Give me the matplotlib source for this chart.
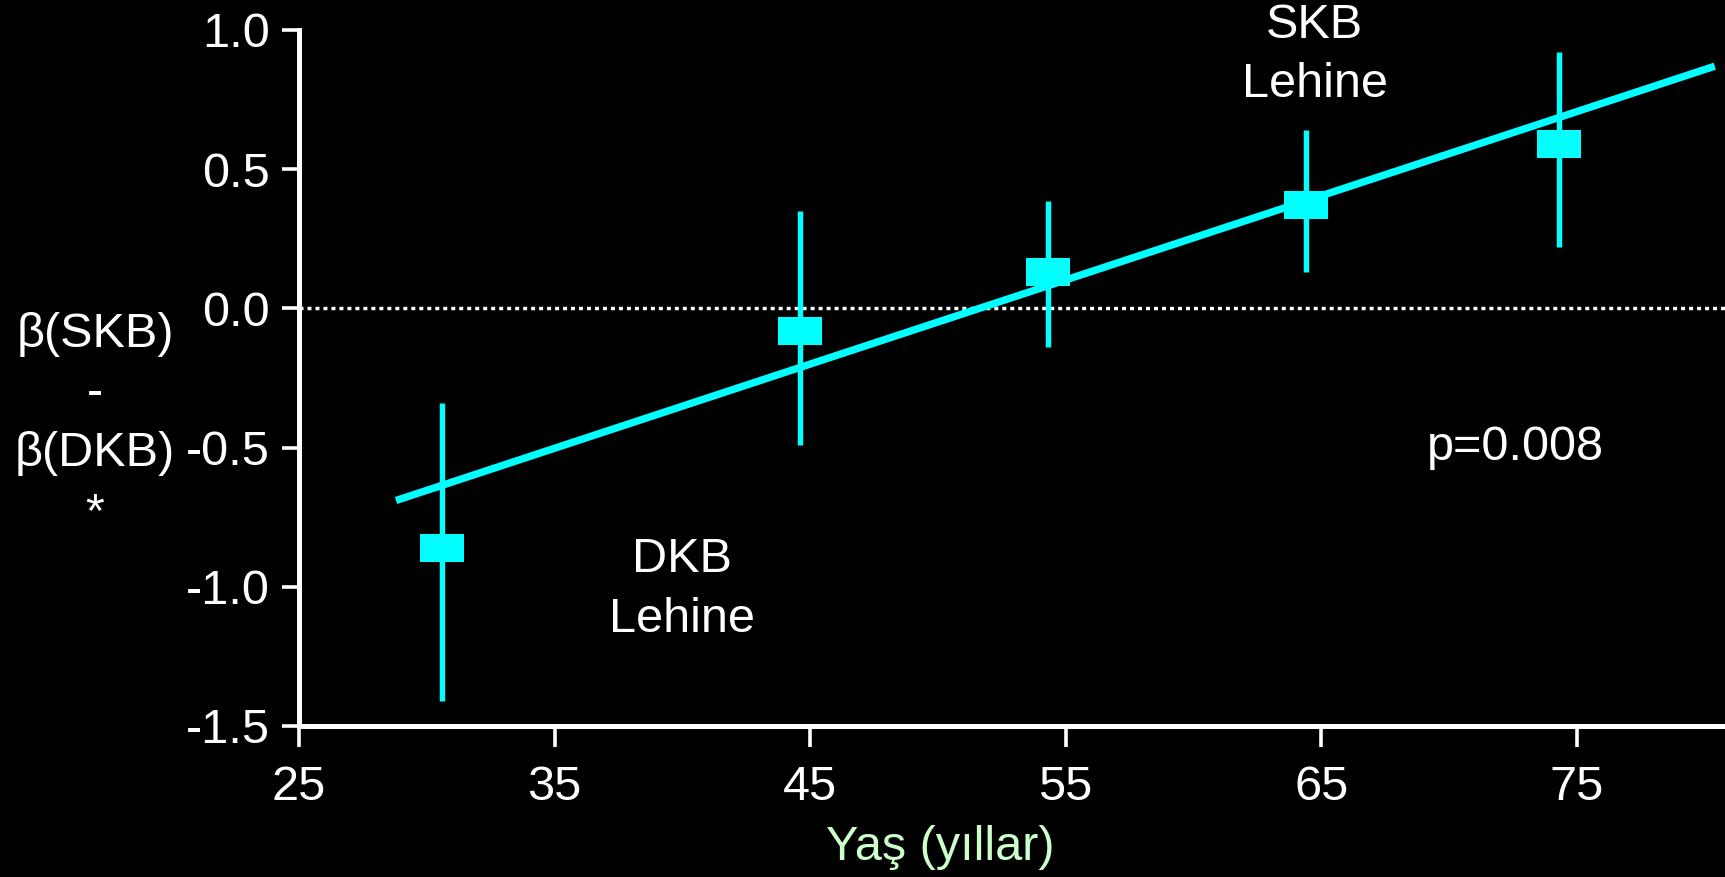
import numpy as np
import matplotlib
matplotlib.use('Agg')
import matplotlib.pyplot as plt

# data
age = [30.6, 44.6, 54.3, 64.4, 74.3]
beta_diff = [-0.86, -0.08, 0.13, 0.37, 0.59]
err_low = [-1.41, -0.49, -0.14, 0.13, 0.22]
err_high = [-0.34, 0.35, 0.385, 0.64, 0.92]

# regression line ends
fit_x = [28.8, 80.4]
fit_y = [-0.69, 0.87]

xticks = [25, 35, 45, 55, 65, 75]
yticks = [-1.5, -1.0, -0.5, 0.0, 0.5, 1.0]
ytick_labels = ['-1.5', '-1.0', '-0.5', '0.0', '0.5', '1.0']

cyan = '#00ffff'
plt.rcParams['font.family'] = ['Liberation Sans', 'DejaVu Sans']

fig = plt.figure(figsize=(17.25, 8.77), dpi=100, facecolor='black')
ax = fig.add_axes([0.1733, 0.1722, 0.8267, 0.7936])
ax.set_facecolor('black')

# zero reference line
ax.plot([25, 80.8], [0, 0], color='white', lw=2.5, linestyle=(0, (1.15, 1.15)), zorder=1)

# regression line
ax.plot(fit_x, fit_y, color=cyan, lw=5.3, solid_capstyle='butt', zorder=3)

# error bars + markers
yerr = [np.array(beta_diff) - np.array(err_low), np.array(err_high) - np.array(beta_diff)]
rect = [(-1, -0.63), (1, -0.63), (1, 0.63), (-1, 0.63), (-1, -0.63)]
ax.errorbar(age, beta_diff, yerr=yerr, fmt='none', ecolor=cyan, elinewidth=3.9, capsize=0, zorder=2)
ax.plot(age, beta_diff, linestyle='none', marker=rect, markersize=31.5,
        color=cyan, markeredgewidth=0, zorder=4)

ax.set_xlim(25, 80.8)
ax.set_ylim(-1.5, 1.0)
ax.set_xticks(xticks)
ax.set_xticklabels([str(t) for t in xticks])
ax.set_yticks(yticks)
ax.set_yticklabels(ytick_labels)

for s in ['top', 'right']:
    ax.spines[s].set_visible(False)
for s in ['left', 'bottom']:
    ax.spines[s].set_color('white')
    ax.spines[s].set_linewidth(3.6)
    ax.spines[s].set_capstyle('projecting')

ax.tick_params(axis='x', colors='white', length=15, width=2.6, pad=13, labelsize=35)
ax.tick_params(axis='y', colors='white', length=12, width=2.6, pad=9, labelsize=35)

# x axis label (sits left of centre in the original)
fig.text(0.545, 0.034, 'Yaş (yıllar)', color='#ccffcc', fontsize=35, ha='center', va='center')

# y label as stacked text
fig.text(0.055, 0.517, 'β(SKB)\n-\nβ(DKB)\n*', color='white', fontsize=35,
         ha='center', va='center', linespacing=1.42)

ax.text(64.75, 0.91, 'SKB\nLehine', color='white', fontsize=35, ha='center', va='center',
        linespacing=1.42, clip_on=False)
ax.text(40.0, -1.01, 'DKB\nLehine', color='white', fontsize=35, ha='center', va='center',
        linespacing=1.42)
ax.text(72.6, -0.50, 'p=0.008', color='white', fontsize=35, ha='center', va='center')

fig.savefig('out.png', dpi=100, facecolor='black')
